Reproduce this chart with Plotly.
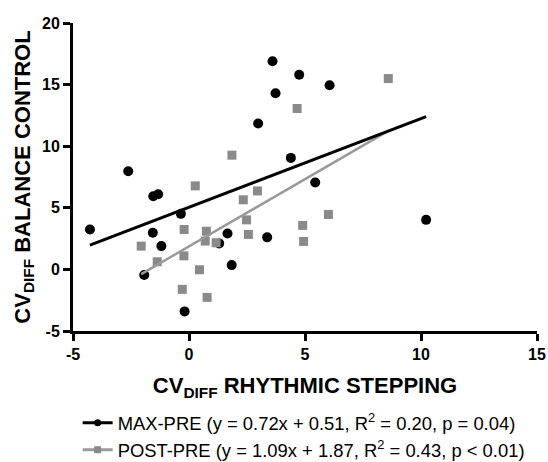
import numpy as np
import plotly.graph_objects as go

# MAX-PRE (black circles)
max_x = [-4.27, -2.62, -1.54, -1.33, -0.35, -1.56, -1.19, -1.93, -0.19, 1.30, 1.66,
         1.84, 2.98, 3.37, 3.60, 3.73, 4.39, 4.75, 5.44, 6.06, 10.22]
max_y = [3.24, 7.97, 5.94, 6.10, 4.51, 2.97, 1.89, -0.46, -3.41, 2.11, 2.92,
         0.35, 11.84, 2.60, 16.9, 14.3, 9.05, 15.8, 7.06, 14.95, 4.02]

# POST-PRE (grey squares)
post_x = [-2.06, -1.37, -0.29, -0.22, -0.21, 0.27, 0.45, 0.70, 0.75, 0.78, 1.17,
          1.85, 2.34, 2.48, 2.56, 2.95, 4.66, 4.90, 4.94, 6.01, 8.59]
post_y = [1.89, 0.62, -1.62, 1.10, 3.24, 6.78, -0.03, 2.30, 3.10, -2.27, 2.16,
          9.27, 5.65, 4.02, 2.84, 6.37, 13.06, 3.57, 2.27, 4.46, 15.49]

x_ticks = [-5, 0, 5, 10, 15]
y_ticks = [-5, 0, 5, 10, 15, 20]

legend_names = [
    "MAX-PRE (y = 0.72x + 0.51, R<sup>2</sup> = 0.20, p = 0.04)",
    "POST-PRE (y = 1.09x + 1.87, R<sup>2</sup> = 0.43, p < 0.01)",
]

BLACK = "#000000"
GREY = "#8a8a8a"
GREY_LINE = "#9a9a9a"
FONT = "Arial, Liberation Sans, sans-serif"

def fit_line(xs, ys):
    m, b = np.polyfit(xs, ys, 1)
    xx = np.array([min(xs), max(xs)])
    return xx, m * xx + b

fig = go.Figure()

mx, my = fit_line(max_x, max_y)
px_, py_ = fit_line(post_x, post_y)

fig.add_trace(go.Scatter(x=max_x, y=max_y, mode="markers", showlegend=False,
                         marker=dict(symbol="circle", size=10, color=BLACK)))
fig.add_trace(go.Scatter(x=post_x, y=post_y, mode="markers", showlegend=False,
                         marker=dict(symbol="square", size=9, color=GREY)))
fig.add_trace(go.Scatter(x=px_, y=py_, mode="lines", showlegend=False,
                         line=dict(color=GREY_LINE, width=2.5)))
fig.add_trace(go.Scatter(x=mx, y=my, mode="lines", showlegend=False,
                         line=dict(color=BLACK, width=3)))

# legend entries
fig.add_trace(go.Scatter(x=[None], y=[None], mode="lines+markers", name=legend_names[0],
                         marker=dict(symbol="circle", size=7, color=BLACK),
                         line=dict(color=BLACK, width=3)))
fig.add_trace(go.Scatter(x=[None], y=[None], mode="lines+markers", name=legend_names[1],
                         marker=dict(symbol="square", size=7, color=GREY),
                         line=dict(color=GREY_LINE, width=3)))

axis_common = dict(
    showline=True, linecolor="black", linewidth=3, mirror=False,
    ticks="outside", ticklen=7, tickwidth=2.5, tickcolor="black",
    showgrid=False, zeroline=False, automargin=False,
    tickfont=dict(family=FONT, size=16, color="black"),
)

fig.update_xaxes(range=[-5, 15], tickvals=x_ticks,
                 ticktext=[f"<b>{v}</b>" for v in x_ticks],
                 title=dict(text="<b>CV<sub>DIFF</sub> RHYTHMIC STEPPING</b>",
                            font=dict(family=FONT, size=22, color="black"), standoff=16),
                 **axis_common)
fig.update_yaxes(range=[-5, 20], tickvals=y_ticks,
                 ticktext=[f"<b>{v}</b>" for v in y_ticks],
                 title=dict(text="<b>CV<sub>DIFF</sub> BALANCE CONTROL</b>",
                            font=dict(family=FONT, size=22, color="black"), standoff=6),
                 **axis_common)

fig.update_layout(
    width=548, height=462,
    margin=dict(l=73, r=11, t=23, b=131, autoexpand=False),
    plot_bgcolor="white", paper_bgcolor="white",
    font=dict(family=FONT, color="black"),
    legend=dict(x=0.01, y=-0.238, xanchor="left", yanchor="top",
                font=dict(family=FONT, size=18.4, color="black"),
                bgcolor="rgba(0,0,0,0)", itemwidth=30, tracegroupgap=0),
)

fig.write_html("out.html", config={"displayModeBar": False},
               post_script="document.body.style.margin='0';document.body.style.overflow='hidden';")
